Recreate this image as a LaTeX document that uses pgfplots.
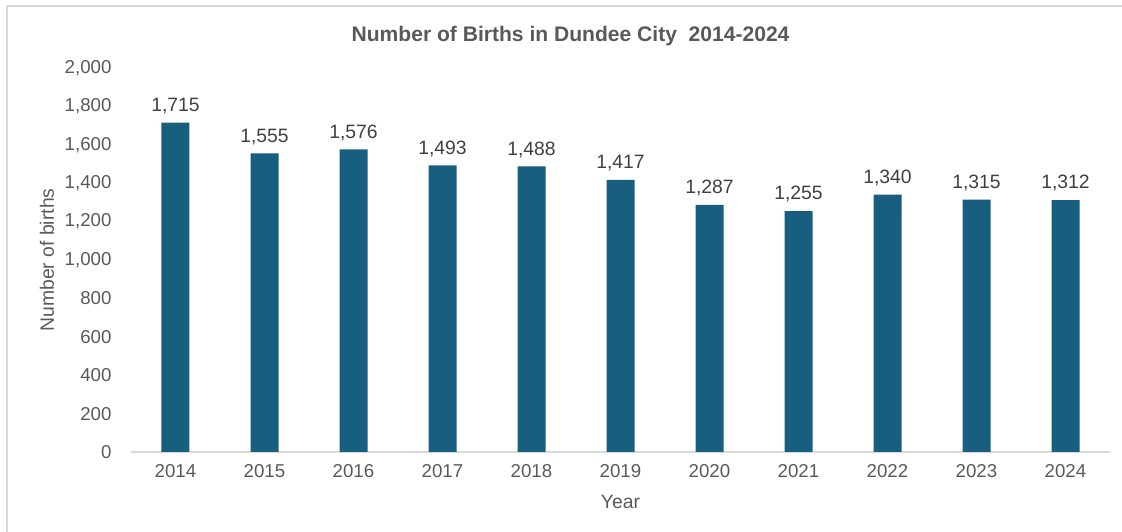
\documentclass[border=0pt]{standalone}
\usepackage{pgfplots}
\pgfplotsset{compat=1.18}
\usepackage{fontspec}
\setmainfont{Liberation Sans}
\definecolor{barc}{HTML}{175E7F}
\definecolor{txt}{HTML}{595959}
\definecolor{lbl}{HTML}{404040}
\definecolor{axc}{HTML}{D9D9D9}
\begin{document}
\begin{tikzpicture}
\path[use as bounding box] (0,0) rectangle (841.5pt,399pt);
\draw[axc, line width=1pt] (5.25pt,0) -- (5.25pt,394.5pt) -- (841.5pt,394.5pt);
\begin{axis}[
  at={(98.25pt,60pt)}, anchor=south west,
  scale only axis, width=734.25pt, height=288pt,
  xmin=-0.5, xmax=10.5, ymin=0, ymax=2000,
  ybar, bar width=21pt,
  axis x line=bottom, axis y line=left,
  axis line style={-},
  x axis line style={axc, line width=1pt},
  y axis line style={draw=none},
  major tick style={draw=none},
  xtick=data,
  xticklabels={2014,2015,2016,2017,2018,2019,2020,2021,2022,2023,2024},
  ytick={0,200,...,2000},
  /pgf/number format/assume math mode=true,
  /pgf/number format/1000 sep={,},
  ticklabel style={font=\fontsize{14}{16}\selectfont, text=txt},
  yticklabel style={xshift=-9pt},
  xticklabel style={yshift=-3.75pt},
  xlabel={Year}, ylabel={Number of births},
  label style={font=\fontsize{14.5}{17}\selectfont, text=txt},
  xlabel style={at={(axis description cs:0.5,-0.13)}, anchor=center},
  ylabel style={at={(axis description cs:-0.0858,0.5)}, anchor=center, rotate=0},
  title={Number of Births in Dundee City\ \ 2014-2024},
  title style={at={(axis description cs:0.449,1.091)}, anchor=center, yshift=-8.25pt, font=\bfseries\fontsize{15.8}{18}\selectfont, text=txt},
  nodes near coords,
  nodes near coords style={font=\fontsize{14.5}{17}\selectfont, text=lbl, /pgf/number format/1000 sep={,}, /pgf/number format/assume math mode=true, yshift=3pt},
  clip=false,
]
\addplot[fill=barc, draw=none] coordinates {
(0,1715) (1,1555) (2,1576) (3,1493) (4,1488) (5,1417) (6,1287) (7,1255) (8,1340) (9,1315) (10,1312)};
\end{axis}
\end{tikzpicture}
\end{document}
